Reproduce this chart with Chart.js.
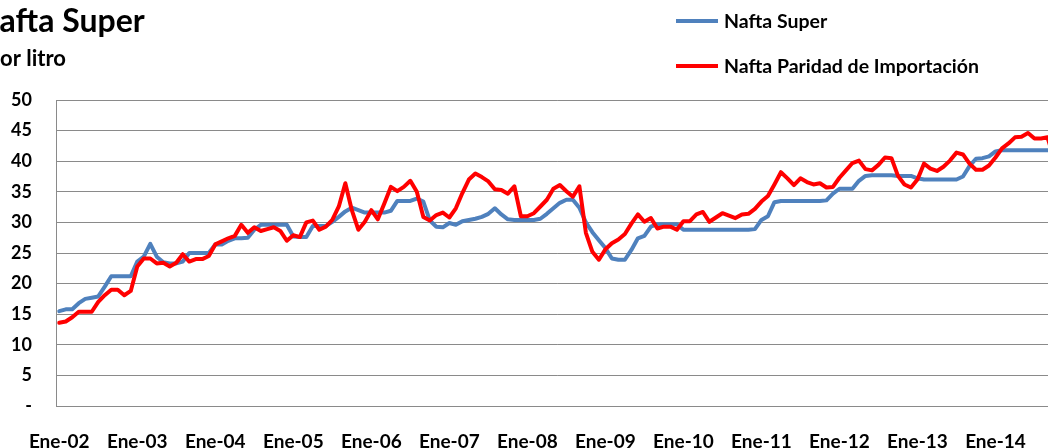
<!DOCTYPE html>
<html>
<head>
<meta charset="utf-8">
<script src="https://cdn.jsdelivr.net/npm/chart.js@4.4.1/dist/chart.umd.min.js"></script>
<style>
  html, body { margin: 0; padding: 0; background: #fff; overflow: hidden; width: 1048px; height: 448px; }
  #c { position: absolute; left: 0; top: 0; }
</style>
</head>
<body>
<canvas id="c" width="1078" height="448"></canvas>
<script>
// Monthly series, Ene-02 onward
const yearTickLabels = ['Ene-02','Ene-03','Ene-04','Ene-05','Ene-06','Ene-07','Ene-08','Ene-09','Ene-10','Ene-11','Ene-12','Ene-13','Ene-14'];

const naftaSuper = [
  15.5,15.8,15.8,16.8,17.5,17.7,17.9,19.5,21.2,21.2,21.2,21.2,
  23.6,24.4,26.5,24.4,23.5,23.3,23.3,23.6,25.0,25.0,25.0,25.0,
  26.4,26.4,27.0,27.4,27.4,27.5,28.8,29.6,29.6,29.6,29.6,29.6,
  27.7,27.6,27.6,29.4,29.4,29.4,30.1,30.9,31.8,32.4,32.0,31.6,
  31.6,31.6,31.6,31.9,33.5,33.5,33.5,33.9,33.4,30.3,29.3,29.2,
  29.9,29.6,30.2,30.4,30.6,30.9,31.4,32.3,31.3,30.5,30.4,30.4,
  30.4,30.4,30.6,31.4,32.3,33.2,33.7,33.7,32.4,30.0,28.4,27.1,
  25.8,24.1,23.9,23.9,25.5,27.4,27.8,29.3,29.7,29.7,29.7,29.7,
  28.8,28.8,28.8,28.8,28.8,28.8,28.8,28.8,28.8,28.8,28.8,28.9,
  30.4,31.0,33.3,33.5,33.5,33.5,33.5,33.5,33.5,33.5,33.6,34.7,
  35.5,35.5,35.5,36.8,37.6,37.7,37.7,37.7,37.7,37.6,37.6,37.6,
  37.2,37.0,37.0,37.0,37.0,37.0,37.0,37.5,39.2,40.4,40.5,40.8,
  41.6,41.8,41.8,41.8,41.8,41.8,41.8,41.8,41.8,41.8
];

const naftaParidad = [
  13.6,13.8,14.5,15.4,15.4,15.4,17.0,18.1,19.0,19.0,18.1,18.8,
  22.8,24.1,24.1,23.3,23.4,22.8,23.4,24.8,23.6,24.0,24.0,24.5,
  26.4,26.9,27.4,27.8,29.6,28.3,29.2,28.6,28.9,29.2,28.6,27.0,
  27.9,27.6,30.0,30.3,28.8,29.3,30.4,32.6,36.4,32.0,28.8,30.1,
  32.0,30.5,33.1,35.8,35.1,35.8,36.8,35.0,30.9,30.3,31.2,31.6,
  30.8,32.3,34.8,37.0,38.0,37.4,36.7,35.4,35.3,34.7,35.9,31.0,
  31.0,31.5,32.6,33.7,35.5,36.1,35.1,34.2,35.9,28.3,25.2,23.9,
  25.6,26.6,27.2,28.1,29.8,31.3,30.1,30.7,29.0,29.3,29.3,28.8,
  30.2,30.2,31.3,31.7,30.1,30.8,31.5,31.1,30.7,31.3,31.4,32.2,
  33.4,34.3,36.2,38.2,37.2,36.1,37.2,36.6,36.2,36.4,35.7,35.8,
  37.3,38.5,39.7,40.1,38.7,38.5,39.4,40.6,40.5,37.6,36.2,35.7,
  37.0,39.6,38.8,38.4,39.1,40.1,41.4,41.1,39.6,38.6,38.6,39.3,
  40.6,42.1,42.9,43.9,44.0,44.6,43.7,43.7,43.9,40.5
];

const yTicks = [0,5,10,15,20,25,30,35,40,45,50];
const seriesNames = ['Nafta Super','Nafta Paridad de Importación'];
const titleText = 'Nafta Super';
const subtitleText = '$ por litro';

const categories = naftaSuper.map((_, i) => i);

const FONT = 'Lato';
const BLUE = '#4F81BD';
const RED = '#FF0000';
const GRID = '#8a8a8a';

const decorations = {
  id: 'decorations',
  afterDraw(chart) {
    const ctx = chart.ctx;
    ctx.save();
    ctx.fillStyle = '#000';
    ctx.textBaseline = 'alphabetic';
    ctx.textAlign = 'left';
    // title (cropped on the left in the reference)
    ctx.font = 'bold 32px ' + FONT;
    const nW = ctx.measureText('N').width;
    ctx.fillText(titleText, -nW, 32);
    ctx.font = 'bold 22px ' + FONT;
    const pW = ctx.measureText('$ p').width;
    ctx.fillText(subtitleText, -pW, 66);
    // legend
    const items = [
      { name: seriesNames[0], color: BLUE, y: 21 },
      { name: seriesNames[1], color: RED, y: 66 }
    ];
    ctx.font = 'bold 19.5px ' + FONT;
    ctx.textBaseline = 'middle';
    items.forEach(it => {
      ctx.strokeStyle = it.color;
      ctx.lineWidth = 4;
      ctx.lineCap = 'butt';
      ctx.beginPath();
      ctx.moveTo(676, it.y);
      ctx.lineTo(718, it.y);
      ctx.stroke();
      ctx.fillText(it.name, 724, it.y + 1);
    });
    ctx.restore();
  }
};

new Chart(document.getElementById('c'), {
  type: 'line',
  data: {
    labels: categories,
    datasets: [
      {
        label: seriesNames[0],
        data: naftaSuper,
        borderColor: BLUE,
        backgroundColor: BLUE,
        borderWidth: 4,
        pointRadius: 0,
        tension: 0,
        borderJoinStyle: 'round',
        borderCapStyle: 'round',
        order: 1
      },
      {
        label: seriesNames[1],
        data: naftaParidad,
        borderColor: RED,
        backgroundColor: RED,
        borderWidth: 4,
        pointRadius: 0,
        tension: 0,
        borderJoinStyle: 'round',
        borderCapStyle: 'round',
        order: 0
      }
    ]
  },
  options: {
    responsive: false,
    devicePixelRatio: 1,
    animation: false,
    events: [],
    layout: { padding: { top: 100, left: 0, right: 0, bottom: 0 } },
    plugins: {
      legend: { display: false },
      title: { display: false },
      tooltip: { enabled: false }
    },
    scales: {
      x: {
        type: 'category',
        offset: true,
        grid: { display: false, drawTicks: false },
        border: { display: true, color: GRID, width: 1 },
        ticks: {
          autoSkip: false,
          maxRotation: 0,
          minRotation: 0,
          padding: 24,
          color: '#000',
          font: { family: FONT, size: 19, weight: 'bold' },
          callback: (v, i) => (i % 12 === 0 ? yearTickLabels[i / 12] : '')
        },
        afterFit: s => { s.height = 42; }
      },
      y: {
        min: 0,
        max: 50,
        afterBuildTicks: s => { s.ticks = yTicks.map(v => ({ value: v })); },
        grid: { color: GRID, lineWidth: 1, drawTicks: false },
        border: { display: true, color: GRID, width: 1 },
        ticks: {
          padding: 24,
          color: '#000',
          font: { family: FONT, size: 18, weight: 'bold' },
          callback: v => (v === 0 ? '-' : String(v))
        },
        afterFit: s => { s.width = 56; }
      }
    }
  },
  plugins: [decorations]
});
</script>
</body>
</html>
